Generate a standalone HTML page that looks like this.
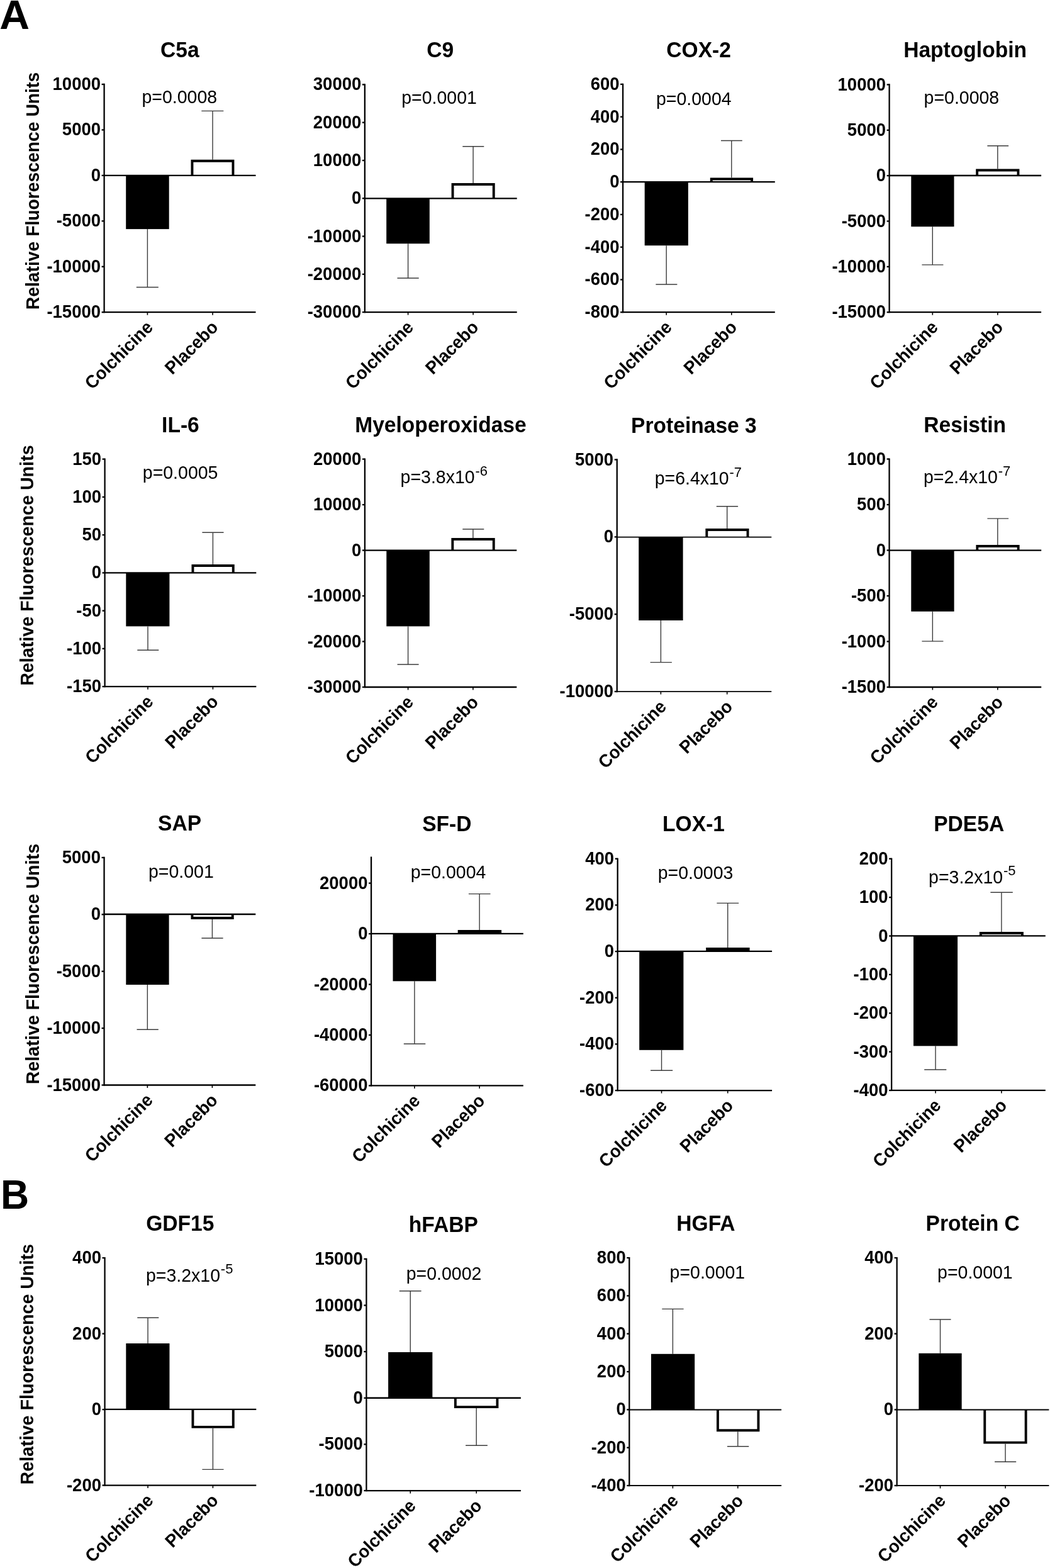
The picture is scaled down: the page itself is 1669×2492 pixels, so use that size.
<!DOCTYPE html>
<html><head><meta charset="utf-8"><title>Figure</title>
<style>
html,body{margin:0;padding:0;background:#fff;}
body{width:1669px;height:2492px;overflow:hidden;}
svg{display:block;}
text{font-family:"Liberation Sans",Arial,sans-serif;fill:#000;}
.tk{font-size:27.5px;font-weight:bold;text-anchor:end;}
.ti{font-size:33.6px;font-weight:bold;text-anchor:middle;}
.pv{font-size:28.5px;}
.sp{font-size:22px;}
.xl{font-size:27.5px;font-weight:bold;text-anchor:end;}
.yl{font-size:28.3px;text-anchor:middle;font-weight:bold;}
.pl{font-size:62.6px;font-weight:bold;}
</style></head>
<body>
<svg width="1669" height="2492" viewBox="0 0 1669 2492">
<rect width="1669" height="2492" fill="#fff"/>
<line x1="165.6" y1="132.85" x2="165.6" y2="497.35" stroke="#000" stroke-width="2.3"/>
<line x1="161.6" y1="134" x2="165.6" y2="134" stroke="#000" stroke-width="2.3"/>
<text class="tk" transform="translate(160 143) scale(1 1.041)">10000</text>
<line x1="161.6" y1="206.44" x2="165.6" y2="206.44" stroke="#000" stroke-width="2.3"/>
<text class="tk" transform="translate(160 215.44) scale(1 1.041)">5000</text>
<line x1="161.6" y1="278.88" x2="165.6" y2="278.88" stroke="#000" stroke-width="2.3"/>
<text class="tk" transform="translate(160 287.88) scale(1 1.041)">0</text>
<line x1="161.6" y1="351.32" x2="165.6" y2="351.32" stroke="#000" stroke-width="2.3"/>
<text class="tk" transform="translate(160 360.32) scale(1 1.041)">-5000</text>
<line x1="161.6" y1="423.76" x2="165.6" y2="423.76" stroke="#000" stroke-width="2.3"/>
<text class="tk" transform="translate(160 432.76) scale(1 1.041)">-10000</text>
<line x1="161.6" y1="496.2" x2="165.6" y2="496.2" stroke="#000" stroke-width="2.3"/>
<text class="tk" transform="translate(160 505.2) scale(1 1.041)">-15000</text>
<line x1="165.6" y1="496.2" x2="406.5" y2="496.2" stroke="#000" stroke-width="2.3"/>
<line x1="234.4" y1="496.2" x2="234.4" y2="500.7" stroke="#000" stroke-width="1.6"/>
<line x1="338" y1="496.2" x2="338" y2="500.7" stroke="#000" stroke-width="1.6"/>
<rect x="200.2" y="278.9" width="68.5" height="85.2" fill="#000"/>
<path d="M305.45 278.9 L305.45 255.75 L370.45 255.75 L370.45 278.9" fill="#fff" stroke="#000" stroke-width="3.9" stroke-linejoin="miter"/>
<line x1="165.6" y1="278.9" x2="406.5" y2="278.9" stroke="#000" stroke-width="2.3"/>
<line x1="234.4" y1="364.1" x2="234.4" y2="456.5" stroke="#3a3a3a" stroke-width="1.4"/>
<line x1="216.8" y1="456.5" x2="251.8" y2="456.5" stroke="#3a3a3a" stroke-width="1.4"/>
<line x1="338" y1="253.8" x2="338" y2="176.4" stroke="#3a3a3a" stroke-width="1.4"/>
<line x1="320.3" y1="176.4" x2="355.3" y2="176.4" stroke="#3a3a3a" stroke-width="1.4"/>
<text class="ti" transform="translate(285.85 91.1) scale(1 1.041)">C5a</text>
<text class="pv" transform="translate(225.5 164.1) scale(1 1.041)">p=0.0008</text>
<text class="xl" transform="translate(244.7 522) rotate(-45) scale(1 1.041)">Colchicine</text>
<text class="xl" transform="translate(348.3 522) rotate(-45) scale(1 1.041)">Placebo</text>
<line x1="579.85" y1="133.25" x2="579.85" y2="497.25" stroke="#000" stroke-width="2.3"/>
<line x1="575.85" y1="134.4" x2="579.85" y2="134.4" stroke="#000" stroke-width="2.3"/>
<text class="tk" transform="translate(574.25 143.4) scale(1 1.041)">30000</text>
<line x1="575.85" y1="194.68" x2="579.85" y2="194.68" stroke="#000" stroke-width="2.3"/>
<text class="tk" transform="translate(574.25 203.68) scale(1 1.041)">20000</text>
<line x1="575.85" y1="254.97" x2="579.85" y2="254.97" stroke="#000" stroke-width="2.3"/>
<text class="tk" transform="translate(574.25 263.97) scale(1 1.041)">10000</text>
<line x1="575.85" y1="315.25" x2="579.85" y2="315.25" stroke="#000" stroke-width="2.3"/>
<text class="tk" transform="translate(574.25 324.25) scale(1 1.041)">0</text>
<line x1="575.85" y1="375.53" x2="579.85" y2="375.53" stroke="#000" stroke-width="2.3"/>
<text class="tk" transform="translate(574.25 384.53) scale(1 1.041)">-10000</text>
<line x1="575.85" y1="435.82" x2="579.85" y2="435.82" stroke="#000" stroke-width="2.3"/>
<text class="tk" transform="translate(574.25 444.82) scale(1 1.041)">-20000</text>
<line x1="575.85" y1="496.1" x2="579.85" y2="496.1" stroke="#000" stroke-width="2.3"/>
<text class="tk" transform="translate(574.25 505.1) scale(1 1.041)">-30000</text>
<line x1="579.85" y1="496.1" x2="821.7" y2="496.1" stroke="#000" stroke-width="2.3"/>
<line x1="648.6" y1="496.1" x2="648.6" y2="500.6" stroke="#000" stroke-width="1.6"/>
<line x1="752.1" y1="496.1" x2="752.1" y2="500.6" stroke="#000" stroke-width="1.6"/>
<rect x="614.2" y="315.35" width="68.6" height="71.85" fill="#000"/>
<path d="M719.55 315.35 L719.55 293.05 L784.75 293.05 L784.75 315.35" fill="#fff" stroke="#000" stroke-width="3.9" stroke-linejoin="miter"/>
<line x1="579.85" y1="315.35" x2="821.7" y2="315.35" stroke="#000" stroke-width="2.3"/>
<line x1="648.6" y1="387.2" x2="648.6" y2="442" stroke="#3a3a3a" stroke-width="1.4"/>
<line x1="631.5" y1="442" x2="665.7" y2="442" stroke="#3a3a3a" stroke-width="1.4"/>
<line x1="752.1" y1="291.1" x2="752.1" y2="232.8" stroke="#3a3a3a" stroke-width="1.4"/>
<line x1="735.3" y1="232.8" x2="769.3" y2="232.8" stroke="#3a3a3a" stroke-width="1.4"/>
<text class="ti" transform="translate(699.65 91.4) scale(1 1.041)">C9</text>
<text class="pv" transform="translate(638.2 165.4) scale(1 1.041)">p=0.0001</text>
<text class="xl" transform="translate(658.9 521.9) rotate(-45) scale(1 1.041)">Colchicine</text>
<text class="xl" transform="translate(762.4 521.9) rotate(-45) scale(1 1.041)">Placebo</text>
<line x1="990.1" y1="132.75" x2="990.1" y2="497.35" stroke="#000" stroke-width="2.3"/>
<line x1="986.1" y1="133.9" x2="990.1" y2="133.9" stroke="#000" stroke-width="2.3"/>
<text class="tk" transform="translate(984.5 142.9) scale(1 1.041)">600</text>
<line x1="986.1" y1="185.66" x2="990.1" y2="185.66" stroke="#000" stroke-width="2.3"/>
<text class="tk" transform="translate(984.5 194.66) scale(1 1.041)">400</text>
<line x1="986.1" y1="237.41" x2="990.1" y2="237.41" stroke="#000" stroke-width="2.3"/>
<text class="tk" transform="translate(984.5 246.41) scale(1 1.041)">200</text>
<line x1="986.1" y1="289.17" x2="990.1" y2="289.17" stroke="#000" stroke-width="2.3"/>
<text class="tk" transform="translate(984.5 298.17) scale(1 1.041)">0</text>
<line x1="986.1" y1="340.93" x2="990.1" y2="340.93" stroke="#000" stroke-width="2.3"/>
<text class="tk" transform="translate(984.5 349.93) scale(1 1.041)">-200</text>
<line x1="986.1" y1="392.69" x2="990.1" y2="392.69" stroke="#000" stroke-width="2.3"/>
<text class="tk" transform="translate(984.5 401.69) scale(1 1.041)">-400</text>
<line x1="986.1" y1="444.44" x2="990.1" y2="444.44" stroke="#000" stroke-width="2.3"/>
<text class="tk" transform="translate(984.5 453.44) scale(1 1.041)">-600</text>
<line x1="986.1" y1="496.2" x2="990.1" y2="496.2" stroke="#000" stroke-width="2.3"/>
<text class="tk" transform="translate(984.5 505.2) scale(1 1.041)">-800</text>
<line x1="990.1" y1="496.2" x2="1231.8" y2="496.2" stroke="#000" stroke-width="2.3"/>
<line x1="1059.2" y1="496.2" x2="1059.2" y2="500.7" stroke="#000" stroke-width="1.6"/>
<line x1="1162.8" y1="496.2" x2="1162.8" y2="500.7" stroke="#000" stroke-width="1.6"/>
<rect x="1024.7" y="289.15" width="69.2" height="101.05" fill="#000"/>
<path d="M1130.75 289.15 L1130.75 284.45 L1195.15 284.45 L1195.15 289.15" fill="#fff" stroke="#000" stroke-width="3.9" stroke-linejoin="miter"/>
<line x1="990.1" y1="289.15" x2="1231.8" y2="289.15" stroke="#000" stroke-width="2.3"/>
<line x1="1059.2" y1="390.2" x2="1059.2" y2="452" stroke="#3a3a3a" stroke-width="1.4"/>
<line x1="1042.4" y1="452" x2="1076.4" y2="452" stroke="#3a3a3a" stroke-width="1.4"/>
<line x1="1162.8" y1="282.5" x2="1162.8" y2="223.5" stroke="#3a3a3a" stroke-width="1.4"/>
<line x1="1146" y1="223.5" x2="1179.8" y2="223.5" stroke="#3a3a3a" stroke-width="1.4"/>
<text class="ti" transform="translate(1110.6 91.4) scale(1 1.041)">COX-2</text>
<text class="pv" transform="translate(1043 166.8) scale(1 1.041)">p=0.0004</text>
<text class="xl" transform="translate(1069.5 522) rotate(-45) scale(1 1.041)">Colchicine</text>
<text class="xl" transform="translate(1173.1 522) rotate(-45) scale(1 1.041)">Placebo</text>
<line x1="1413.6" y1="133.35" x2="1413.6" y2="497.35" stroke="#000" stroke-width="2.3"/>
<line x1="1409.6" y1="134.5" x2="1413.6" y2="134.5" stroke="#000" stroke-width="2.3"/>
<text class="tk" transform="translate(1408 143.5) scale(1 1.041)">10000</text>
<line x1="1409.6" y1="206.84" x2="1413.6" y2="206.84" stroke="#000" stroke-width="2.3"/>
<text class="tk" transform="translate(1408 215.84) scale(1 1.041)">5000</text>
<line x1="1409.6" y1="279.18" x2="1413.6" y2="279.18" stroke="#000" stroke-width="2.3"/>
<text class="tk" transform="translate(1408 288.18) scale(1 1.041)">0</text>
<line x1="1409.6" y1="351.52" x2="1413.6" y2="351.52" stroke="#000" stroke-width="2.3"/>
<text class="tk" transform="translate(1408 360.52) scale(1 1.041)">-5000</text>
<line x1="1409.6" y1="423.86" x2="1413.6" y2="423.86" stroke="#000" stroke-width="2.3"/>
<text class="tk" transform="translate(1408 432.86) scale(1 1.041)">-10000</text>
<line x1="1409.6" y1="496.2" x2="1413.6" y2="496.2" stroke="#000" stroke-width="2.3"/>
<text class="tk" transform="translate(1408 505.2) scale(1 1.041)">-15000</text>
<line x1="1413.6" y1="496.2" x2="1655.1" y2="496.2" stroke="#000" stroke-width="2.3"/>
<line x1="1482.3" y1="496.2" x2="1482.3" y2="500.7" stroke="#000" stroke-width="1.6"/>
<line x1="1585.8" y1="496.2" x2="1585.8" y2="500.7" stroke="#000" stroke-width="1.6"/>
<rect x="1448.3" y="279" width="68.2" height="81.2" fill="#000"/>
<path d="M1553.15 279 L1553.15 270.55 L1618.45 270.55 L1618.45 279" fill="#fff" stroke="#000" stroke-width="3.9" stroke-linejoin="miter"/>
<line x1="1413.6" y1="279" x2="1655.1" y2="279" stroke="#000" stroke-width="2.3"/>
<line x1="1482.3" y1="360.2" x2="1482.3" y2="420.9" stroke="#3a3a3a" stroke-width="1.4"/>
<line x1="1465.4" y1="420.9" x2="1499.4" y2="420.9" stroke="#3a3a3a" stroke-width="1.4"/>
<line x1="1585.8" y1="268.6" x2="1585.8" y2="231.8" stroke="#3a3a3a" stroke-width="1.4"/>
<line x1="1569.4" y1="231.8" x2="1603.1" y2="231.8" stroke="#3a3a3a" stroke-width="1.4"/>
<text class="ti" transform="translate(1534.1 91.4) scale(1 1.041)">Haptoglobin</text>
<text class="pv" transform="translate(1468.6 165.1) scale(1 1.041)">p=0.0008</text>
<text class="xl" transform="translate(1492.6 522) rotate(-45) scale(1 1.041)">Colchicine</text>
<text class="xl" transform="translate(1596.1 522) rotate(-45) scale(1 1.041)">Placebo</text>
<line x1="166.6" y1="728.5" x2="166.6" y2="1092.3" stroke="#000" stroke-width="2.3"/>
<line x1="162.6" y1="729.65" x2="166.6" y2="729.65" stroke="#000" stroke-width="2.3"/>
<text class="tk" transform="translate(161 738.65) scale(1 1.041)">150</text>
<line x1="162.6" y1="789.9" x2="166.6" y2="789.9" stroke="#000" stroke-width="2.3"/>
<text class="tk" transform="translate(161 798.9) scale(1 1.041)">100</text>
<line x1="162.6" y1="850.15" x2="166.6" y2="850.15" stroke="#000" stroke-width="2.3"/>
<text class="tk" transform="translate(161 859.15) scale(1 1.041)">50</text>
<line x1="162.6" y1="910.4" x2="166.6" y2="910.4" stroke="#000" stroke-width="2.3"/>
<text class="tk" transform="translate(161 919.4) scale(1 1.041)">0</text>
<line x1="162.6" y1="970.65" x2="166.6" y2="970.65" stroke="#000" stroke-width="2.3"/>
<text class="tk" transform="translate(161 979.65) scale(1 1.041)">-50</text>
<line x1="162.6" y1="1030.9" x2="166.6" y2="1030.9" stroke="#000" stroke-width="2.3"/>
<text class="tk" transform="translate(161 1039.9) scale(1 1.041)">-100</text>
<line x1="162.6" y1="1091.15" x2="166.6" y2="1091.15" stroke="#000" stroke-width="2.3"/>
<text class="tk" transform="translate(161 1100.15) scale(1 1.041)">-150</text>
<line x1="166.6" y1="1091.15" x2="407.3" y2="1091.15" stroke="#000" stroke-width="2.3"/>
<line x1="235" y1="1091.15" x2="235" y2="1095.65" stroke="#000" stroke-width="1.6"/>
<line x1="338.4" y1="1091.15" x2="338.4" y2="1095.65" stroke="#000" stroke-width="1.6"/>
<rect x="200.3" y="910.3" width="69.1" height="85.1" fill="#000"/>
<path d="M306.45 910.3 L306.45 899.05 L370.75 899.05 L370.75 910.3" fill="#fff" stroke="#000" stroke-width="3.9" stroke-linejoin="miter"/>
<line x1="166.6" y1="910.3" x2="407.3" y2="910.3" stroke="#000" stroke-width="2.3"/>
<line x1="235" y1="995.4" x2="235" y2="1033.3" stroke="#3a3a3a" stroke-width="1.4"/>
<line x1="218.3" y1="1033.3" x2="252.3" y2="1033.3" stroke="#3a3a3a" stroke-width="1.4"/>
<line x1="338.4" y1="897.1" x2="338.4" y2="846.3" stroke="#3a3a3a" stroke-width="1.4"/>
<line x1="321.4" y1="846.3" x2="355.5" y2="846.3" stroke="#3a3a3a" stroke-width="1.4"/>
<text class="ti" transform="translate(286.9 686.6) scale(1 1.041)">IL-6</text>
<text class="pv" transform="translate(226.8 761.2) scale(1 1.041)">p=0.0005</text>
<text class="xl" transform="translate(245.3 1116.95) rotate(-45) scale(1 1.041)">Colchicine</text>
<text class="xl" transform="translate(348.7 1116.95) rotate(-45) scale(1 1.041)">Placebo</text>
<line x1="579.9" y1="728.5" x2="579.9" y2="1093.15" stroke="#000" stroke-width="2.3"/>
<line x1="575.9" y1="729.65" x2="579.9" y2="729.65" stroke="#000" stroke-width="2.3"/>
<text class="tk" transform="translate(574.3 738.65) scale(1 1.041)">20000</text>
<line x1="575.9" y1="802.12" x2="579.9" y2="802.12" stroke="#000" stroke-width="2.3"/>
<text class="tk" transform="translate(574.3 811.12) scale(1 1.041)">10000</text>
<line x1="575.9" y1="874.59" x2="579.9" y2="874.59" stroke="#000" stroke-width="2.3"/>
<text class="tk" transform="translate(574.3 883.59) scale(1 1.041)">0</text>
<line x1="575.9" y1="947.06" x2="579.9" y2="947.06" stroke="#000" stroke-width="2.3"/>
<text class="tk" transform="translate(574.3 956.06) scale(1 1.041)">-10000</text>
<line x1="575.9" y1="1019.53" x2="579.9" y2="1019.53" stroke="#000" stroke-width="2.3"/>
<text class="tk" transform="translate(574.3 1028.53) scale(1 1.041)">-20000</text>
<line x1="575.9" y1="1092" x2="579.9" y2="1092" stroke="#000" stroke-width="2.3"/>
<text class="tk" transform="translate(574.3 1101) scale(1 1.041)">-30000</text>
<line x1="579.9" y1="1092" x2="821.3" y2="1092" stroke="#000" stroke-width="2.3"/>
<line x1="648.6" y1="1092" x2="648.6" y2="1096.5" stroke="#000" stroke-width="1.6"/>
<line x1="751.9" y1="1092" x2="751.9" y2="1096.5" stroke="#000" stroke-width="1.6"/>
<rect x="614.3" y="874.7" width="68.5" height="120.7" fill="#000"/>
<path d="M719.35 874.7 L719.35 856.95 L784.75 856.95 L784.75 874.7" fill="#fff" stroke="#000" stroke-width="3.9" stroke-linejoin="miter"/>
<line x1="579.9" y1="874.7" x2="821.3" y2="874.7" stroke="#000" stroke-width="2.3"/>
<line x1="648.6" y1="995.4" x2="648.6" y2="1056" stroke="#3a3a3a" stroke-width="1.4"/>
<line x1="631.6" y1="1056" x2="665.6" y2="1056" stroke="#3a3a3a" stroke-width="1.4"/>
<line x1="751.9" y1="855" x2="751.9" y2="841" stroke="#3a3a3a" stroke-width="1.4"/>
<line x1="735.3" y1="841" x2="769.3" y2="841" stroke="#3a3a3a" stroke-width="1.4"/>
<text class="ti" transform="translate(700.45 686.9) scale(1 1.041)">Myeloperoxidase</text>
<text class="pv" transform="translate(636.6 768) scale(1 1.041)">p=3.8x10<tspan class="sp" dx="0.8" dy="-12.0">-6</tspan></text>
<text class="xl" transform="translate(658.9 1117.8) rotate(-45) scale(1 1.041)">Colchicine</text>
<text class="xl" transform="translate(762.2 1117.8) rotate(-45) scale(1 1.041)">Placebo</text>
<line x1="980.75" y1="729.35" x2="980.75" y2="1100.2" stroke="#000" stroke-width="2.3"/>
<line x1="976.75" y1="730.5" x2="980.75" y2="730.5" stroke="#000" stroke-width="2.3"/>
<text class="tk" transform="translate(975.15 739.5) scale(1 1.041)">5000</text>
<line x1="976.75" y1="853.35" x2="980.75" y2="853.35" stroke="#000" stroke-width="2.3"/>
<text class="tk" transform="translate(975.15 862.35) scale(1 1.041)">0</text>
<line x1="976.75" y1="976.2" x2="980.75" y2="976.2" stroke="#000" stroke-width="2.3"/>
<text class="tk" transform="translate(975.15 985.2) scale(1 1.041)">-5000</text>
<line x1="976.75" y1="1099.05" x2="980.75" y2="1099.05" stroke="#000" stroke-width="2.3"/>
<text class="tk" transform="translate(975.15 1108.05) scale(1 1.041)">-10000</text>
<line x1="980.75" y1="1099.05" x2="1226.3" y2="1099.05" stroke="#000" stroke-width="1.8"/>
<line x1="1050.4" y1="1099.05" x2="1050.4" y2="1103.55" stroke="#000" stroke-width="1.6"/>
<line x1="1155.7" y1="1099.05" x2="1155.7" y2="1103.55" stroke="#000" stroke-width="1.6"/>
<rect x="1015.25" y="853.6" width="70.35" height="132.4" fill="#000"/>
<path d="M1123.35 853.6 L1123.35 842.05 L1188.55 842.05 L1188.55 853.6" fill="#fff" stroke="#000" stroke-width="3.9" stroke-linejoin="miter"/>
<line x1="980.75" y1="853.6" x2="1226.3" y2="853.6" stroke="#000" stroke-width="1.8"/>
<line x1="1050.4" y1="986" x2="1050.4" y2="1052.6" stroke="#3a3a3a" stroke-width="1.4"/>
<line x1="1033.6" y1="1052.6" x2="1067.9" y2="1052.6" stroke="#3a3a3a" stroke-width="1.4"/>
<line x1="1155.7" y1="840.1" x2="1155.7" y2="804.8" stroke="#3a3a3a" stroke-width="1.4"/>
<line x1="1138.8" y1="804.8" x2="1173.1" y2="804.8" stroke="#3a3a3a" stroke-width="1.4"/>
<text class="ti" transform="translate(1102.9 687.5) scale(1 1.041)">Proteinase 3</text>
<text class="pv" transform="translate(1040.7 770.2) scale(1 1.041)">p=6.4x10<tspan class="sp" dx="0.8" dy="-12.0">-7</tspan></text>
<text class="xl" transform="translate(1060.7 1124.85) rotate(-45) scale(1 1.041)">Colchicine</text>
<text class="xl" transform="translate(1166 1124.85) rotate(-45) scale(1 1.041)">Placebo</text>
<line x1="1413.55" y1="728.4" x2="1413.55" y2="1093.15" stroke="#000" stroke-width="2.3"/>
<line x1="1409.55" y1="729.55" x2="1413.55" y2="729.55" stroke="#000" stroke-width="2.3"/>
<text class="tk" transform="translate(1407.95 738.55) scale(1 1.041)">1000</text>
<line x1="1409.55" y1="802.04" x2="1413.55" y2="802.04" stroke="#000" stroke-width="2.3"/>
<text class="tk" transform="translate(1407.95 811.04) scale(1 1.041)">500</text>
<line x1="1409.55" y1="874.53" x2="1413.55" y2="874.53" stroke="#000" stroke-width="2.3"/>
<text class="tk" transform="translate(1407.95 883.53) scale(1 1.041)">0</text>
<line x1="1409.55" y1="947.02" x2="1413.55" y2="947.02" stroke="#000" stroke-width="2.3"/>
<text class="tk" transform="translate(1407.95 956.02) scale(1 1.041)">-500</text>
<line x1="1409.55" y1="1019.51" x2="1413.55" y2="1019.51" stroke="#000" stroke-width="2.3"/>
<text class="tk" transform="translate(1407.95 1028.51) scale(1 1.041)">-1000</text>
<line x1="1409.55" y1="1092" x2="1413.55" y2="1092" stroke="#000" stroke-width="2.3"/>
<text class="tk" transform="translate(1407.95 1101) scale(1 1.041)">-1500</text>
<line x1="1413.55" y1="1092" x2="1655.2" y2="1092" stroke="#000" stroke-width="2.3"/>
<line x1="1482.35" y1="1092" x2="1482.35" y2="1096.5" stroke="#000" stroke-width="1.6"/>
<line x1="1585.8" y1="1092" x2="1585.8" y2="1096.5" stroke="#000" stroke-width="1.6"/>
<rect x="1448.3" y="874.65" width="68.3" height="97.15" fill="#000"/>
<path d="M1553.35 874.65 L1553.35 868.05 L1618.65 868.05 L1618.65 874.65" fill="#fff" stroke="#000" stroke-width="3.9" stroke-linejoin="miter"/>
<line x1="1413.55" y1="874.65" x2="1655.2" y2="874.65" stroke="#000" stroke-width="2.3"/>
<line x1="1482.35" y1="971.8" x2="1482.35" y2="1019.1" stroke="#3a3a3a" stroke-width="1.4"/>
<line x1="1465.4" y1="1019.1" x2="1499.4" y2="1019.1" stroke="#3a3a3a" stroke-width="1.4"/>
<line x1="1585.8" y1="866.1" x2="1585.8" y2="824.1" stroke="#3a3a3a" stroke-width="1.4"/>
<line x1="1569.4" y1="824.1" x2="1603.1" y2="824.1" stroke="#3a3a3a" stroke-width="1.4"/>
<text class="ti" transform="translate(1533.65 686.8) scale(1 1.041)">Resistin</text>
<text class="pv" transform="translate(1467.9 768.1) scale(1 1.041)">p=2.4x10<tspan class="sp" dx="0.8" dy="-12.0">-7</tspan></text>
<text class="xl" transform="translate(1492.65 1117.8) rotate(-45) scale(1 1.041)">Colchicine</text>
<text class="xl" transform="translate(1596.1 1117.8) rotate(-45) scale(1 1.041)">Placebo</text>
<line x1="165.55" y1="1361.8" x2="165.55" y2="1725.65" stroke="#000" stroke-width="2.3"/>
<line x1="161.55" y1="1362.95" x2="165.55" y2="1362.95" stroke="#000" stroke-width="2.3"/>
<text class="tk" transform="translate(159.95 1371.95) scale(1 1.041)">5000</text>
<line x1="161.55" y1="1453.34" x2="165.55" y2="1453.34" stroke="#000" stroke-width="2.3"/>
<text class="tk" transform="translate(159.95 1462.34) scale(1 1.041)">0</text>
<line x1="161.55" y1="1543.72" x2="165.55" y2="1543.72" stroke="#000" stroke-width="2.3"/>
<text class="tk" transform="translate(159.95 1552.72) scale(1 1.041)">-5000</text>
<line x1="161.55" y1="1634.11" x2="165.55" y2="1634.11" stroke="#000" stroke-width="2.3"/>
<text class="tk" transform="translate(159.95 1643.11) scale(1 1.041)">-10000</text>
<line x1="161.55" y1="1724.5" x2="165.55" y2="1724.5" stroke="#000" stroke-width="2.3"/>
<text class="tk" transform="translate(159.95 1733.5) scale(1 1.041)">-15000</text>
<line x1="165.55" y1="1724.5" x2="406.3" y2="1724.5" stroke="#000" stroke-width="2.3"/>
<line x1="234.35" y1="1724.5" x2="234.35" y2="1729" stroke="#000" stroke-width="1.6"/>
<line x1="337.4" y1="1724.5" x2="337.4" y2="1729" stroke="#000" stroke-width="1.6"/>
<rect x="200.3" y="1453" width="68.3" height="112" fill="#000"/>
<path d="M305.45 1453 L305.45 1458.95 L369.75 1458.95 L369.75 1453" fill="#fff" stroke="#000" stroke-width="3.9" stroke-linejoin="miter"/>
<line x1="165.55" y1="1453" x2="406.3" y2="1453" stroke="#000" stroke-width="2.3"/>
<line x1="234.35" y1="1565" x2="234.35" y2="1636.3" stroke="#3a3a3a" stroke-width="1.4"/>
<line x1="217.5" y1="1636.3" x2="251.8" y2="1636.3" stroke="#3a3a3a" stroke-width="1.4"/>
<line x1="337.4" y1="1460.9" x2="337.4" y2="1491" stroke="#3a3a3a" stroke-width="1.4"/>
<line x1="320.4" y1="1491" x2="354.6" y2="1491" stroke="#3a3a3a" stroke-width="1.4"/>
<text class="ti" transform="translate(285.6 1320) scale(1 1.041)">SAP</text>
<text class="pv" transform="translate(236 1395.1) scale(1 1.041)">p=0.001</text>
<text class="xl" transform="translate(244.65 1750.3) rotate(-45) scale(1 1.041)">Colchicine</text>
<text class="xl" transform="translate(347.7 1750.3) rotate(-45) scale(1 1.041)">Placebo</text>
<line x1="590.05" y1="1361.6" x2="590.05" y2="1726.55" stroke="#000" stroke-width="2.3"/>
<line x1="586.05" y1="1403.6" x2="590.05" y2="1403.6" stroke="#000" stroke-width="2.3"/>
<text class="tk" transform="translate(584.45 1412.6) scale(1 1.041)">20000</text>
<line x1="586.05" y1="1484.05" x2="590.05" y2="1484.05" stroke="#000" stroke-width="2.3"/>
<text class="tk" transform="translate(584.45 1493.05) scale(1 1.041)">0</text>
<line x1="586.05" y1="1564.5" x2="590.05" y2="1564.5" stroke="#000" stroke-width="2.3"/>
<text class="tk" transform="translate(584.45 1573.5) scale(1 1.041)">-20000</text>
<line x1="586.05" y1="1644.95" x2="590.05" y2="1644.95" stroke="#000" stroke-width="2.3"/>
<text class="tk" transform="translate(584.45 1653.95) scale(1 1.041)">-40000</text>
<line x1="586.05" y1="1725.4" x2="590.05" y2="1725.4" stroke="#000" stroke-width="2.3"/>
<text class="tk" transform="translate(584.45 1734.4) scale(1 1.041)">-60000</text>
<line x1="590.05" y1="1725.4" x2="831.8" y2="1725.4" stroke="#000" stroke-width="2.3"/>
<line x1="658.9" y1="1725.4" x2="658.9" y2="1729.9" stroke="#000" stroke-width="1.6"/>
<line x1="762.15" y1="1725.4" x2="762.15" y2="1729.9" stroke="#000" stroke-width="1.6"/>
<rect x="624.5" y="1483.9" width="68.6" height="75.45" fill="#000"/>
<path d="M729.65 1483.9 L729.65 1480.05 L795.15 1480.05 L795.15 1483.9" fill="#000" stroke="#000" stroke-width="3.9" stroke-linejoin="miter"/>
<line x1="590.05" y1="1483.9" x2="831.8" y2="1483.9" stroke="#000" stroke-width="2.3"/>
<line x1="658.9" y1="1559.35" x2="658.9" y2="1659" stroke="#3a3a3a" stroke-width="1.4"/>
<line x1="641.8" y1="1659" x2="676.3" y2="1659" stroke="#3a3a3a" stroke-width="1.4"/>
<line x1="762.15" y1="1478.1" x2="762.15" y2="1420.6" stroke="#3a3a3a" stroke-width="1.4"/>
<line x1="744.9" y1="1420.6" x2="779.5" y2="1420.6" stroke="#3a3a3a" stroke-width="1.4"/>
<text class="ti" transform="translate(710.35 1320.6) scale(1 1.041)">SF-D</text>
<text class="pv" transform="translate(652.7 1395.9) scale(1 1.041)">p=0.0004</text>
<text class="xl" transform="translate(669.2 1751.2) rotate(-45) scale(1 1.041)">Colchicine</text>
<text class="xl" transform="translate(772.45 1751.2) rotate(-45) scale(1 1.041)">Placebo</text>
<line x1="981.7" y1="1363.65" x2="981.7" y2="1734.2" stroke="#000" stroke-width="2.3"/>
<line x1="977.7" y1="1364.8" x2="981.7" y2="1364.8" stroke="#000" stroke-width="2.3"/>
<text class="tk" transform="translate(976.1 1373.8) scale(1 1.041)">400</text>
<line x1="977.7" y1="1438.45" x2="981.7" y2="1438.45" stroke="#000" stroke-width="2.3"/>
<text class="tk" transform="translate(976.1 1447.45) scale(1 1.041)">200</text>
<line x1="977.7" y1="1512.1" x2="981.7" y2="1512.1" stroke="#000" stroke-width="2.3"/>
<text class="tk" transform="translate(976.1 1521.1) scale(1 1.041)">0</text>
<line x1="977.7" y1="1585.75" x2="981.7" y2="1585.75" stroke="#000" stroke-width="2.3"/>
<text class="tk" transform="translate(976.1 1594.75) scale(1 1.041)">-200</text>
<line x1="977.7" y1="1659.4" x2="981.7" y2="1659.4" stroke="#000" stroke-width="2.3"/>
<text class="tk" transform="translate(976.1 1668.4) scale(1 1.041)">-400</text>
<line x1="977.7" y1="1733.05" x2="981.7" y2="1733.05" stroke="#000" stroke-width="2.3"/>
<text class="tk" transform="translate(976.1 1742.05) scale(1 1.041)">-600</text>
<line x1="981.7" y1="1733.05" x2="1227.1" y2="1733.05" stroke="#000" stroke-width="2.3"/>
<line x1="1051.55" y1="1733.05" x2="1051.55" y2="1737.55" stroke="#000" stroke-width="1.6"/>
<line x1="1156.75" y1="1733.05" x2="1156.75" y2="1737.55" stroke="#000" stroke-width="1.6"/>
<rect x="1016.2" y="1511.85" width="70.2" height="156.95" fill="#000"/>
<path d="M1124.15 1511.85 L1124.15 1508.05 L1189.65 1508.05 L1189.65 1511.85" fill="#000" stroke="#000" stroke-width="3.9" stroke-linejoin="miter"/>
<line x1="981.7" y1="1511.85" x2="1227.1" y2="1511.85" stroke="#000" stroke-width="2.3"/>
<line x1="1051.55" y1="1668.8" x2="1051.55" y2="1701.3" stroke="#3a3a3a" stroke-width="1.4"/>
<line x1="1034.1" y1="1701.3" x2="1069.2" y2="1701.3" stroke="#3a3a3a" stroke-width="1.4"/>
<line x1="1156.75" y1="1506.1" x2="1156.75" y2="1435.4" stroke="#3a3a3a" stroke-width="1.4"/>
<line x1="1139.4" y1="1435.4" x2="1174.2" y2="1435.4" stroke="#3a3a3a" stroke-width="1.4"/>
<text class="ti" transform="translate(1102.55 1320.7) scale(1 1.041)">LOX-1</text>
<text class="pv" transform="translate(1045.7 1396.8) scale(1 1.041)">p=0.0003</text>
<text class="xl" transform="translate(1061.85 1758.85) rotate(-45) scale(1 1.041)">Colchicine</text>
<text class="xl" transform="translate(1167.05 1758.85) rotate(-45) scale(1 1.041)">Placebo</text>
<line x1="1417.15" y1="1363.65" x2="1417.15" y2="1734.1" stroke="#000" stroke-width="2.3"/>
<line x1="1413.15" y1="1364.8" x2="1417.15" y2="1364.8" stroke="#000" stroke-width="2.3"/>
<text class="tk" transform="translate(1411.55 1373.8) scale(1 1.041)">200</text>
<line x1="1413.15" y1="1426.16" x2="1417.15" y2="1426.16" stroke="#000" stroke-width="2.3"/>
<text class="tk" transform="translate(1411.55 1435.16) scale(1 1.041)">100</text>
<line x1="1413.15" y1="1487.52" x2="1417.15" y2="1487.52" stroke="#000" stroke-width="2.3"/>
<text class="tk" transform="translate(1411.55 1496.52) scale(1 1.041)">0</text>
<line x1="1413.15" y1="1548.88" x2="1417.15" y2="1548.88" stroke="#000" stroke-width="2.3"/>
<text class="tk" transform="translate(1411.55 1557.88) scale(1 1.041)">-100</text>
<line x1="1413.15" y1="1610.23" x2="1417.15" y2="1610.23" stroke="#000" stroke-width="2.3"/>
<text class="tk" transform="translate(1411.55 1619.23) scale(1 1.041)">-200</text>
<line x1="1413.15" y1="1671.59" x2="1417.15" y2="1671.59" stroke="#000" stroke-width="2.3"/>
<text class="tk" transform="translate(1411.55 1680.59) scale(1 1.041)">-300</text>
<line x1="1413.15" y1="1732.95" x2="1417.15" y2="1732.95" stroke="#000" stroke-width="2.3"/>
<text class="tk" transform="translate(1411.55 1741.95) scale(1 1.041)">-400</text>
<line x1="1417.15" y1="1732.95" x2="1661.8" y2="1732.95" stroke="#000" stroke-width="2.3"/>
<line x1="1487.05" y1="1732.95" x2="1487.05" y2="1737.45" stroke="#000" stroke-width="1.6"/>
<line x1="1591.9" y1="1732.95" x2="1591.9" y2="1737.45" stroke="#000" stroke-width="1.6"/>
<rect x="1452" y="1487.3" width="70.1" height="175.05" fill="#000"/>
<path d="M1558.85 1487.3 L1558.85 1482.95 L1624.95 1482.95 L1624.95 1487.3" fill="#fff" stroke="#000" stroke-width="3.9" stroke-linejoin="miter"/>
<line x1="1417.15" y1="1487.3" x2="1661.8" y2="1487.3" stroke="#000" stroke-width="2.3"/>
<line x1="1487.05" y1="1662.35" x2="1487.05" y2="1700" stroke="#3a3a3a" stroke-width="1.4"/>
<line x1="1469.2" y1="1700" x2="1504.3" y2="1700" stroke="#3a3a3a" stroke-width="1.4"/>
<line x1="1591.9" y1="1481" x2="1591.9" y2="1418.2" stroke="#3a3a3a" stroke-width="1.4"/>
<line x1="1574.4" y1="1418.2" x2="1609.8" y2="1418.2" stroke="#3a3a3a" stroke-width="1.4"/>
<text class="ti" transform="translate(1540.15 1320.8) scale(1 1.041)">PDE5A</text>
<text class="pv" transform="translate(1476.1 1403.7) scale(1 1.041)">p=3.2x10<tspan class="sp" dx="0.8" dy="-12.0">-5</tspan></text>
<text class="xl" transform="translate(1497.35 1758.75) rotate(-45) scale(1 1.041)">Colchicine</text>
<text class="xl" transform="translate(1602.2 1758.75) rotate(-45) scale(1 1.041)">Placebo</text>
<line x1="166.55" y1="1998" x2="166.55" y2="2361.75" stroke="#000" stroke-width="2.3"/>
<line x1="162.55" y1="1999.15" x2="166.55" y2="1999.15" stroke="#000" stroke-width="2.3"/>
<text class="tk" transform="translate(160.95 2008.15) scale(1 1.041)">400</text>
<line x1="162.55" y1="2119.63" x2="166.55" y2="2119.63" stroke="#000" stroke-width="2.3"/>
<text class="tk" transform="translate(160.95 2128.63) scale(1 1.041)">200</text>
<line x1="162.55" y1="2240.12" x2="166.55" y2="2240.12" stroke="#000" stroke-width="2.3"/>
<text class="tk" transform="translate(160.95 2249.12) scale(1 1.041)">0</text>
<line x1="162.55" y1="2360.6" x2="166.55" y2="2360.6" stroke="#000" stroke-width="2.3"/>
<text class="tk" transform="translate(160.95 2369.6) scale(1 1.041)">-200</text>
<line x1="166.55" y1="2360.6" x2="407.3" y2="2360.6" stroke="#000" stroke-width="2.3"/>
<line x1="235.05" y1="2360.6" x2="235.05" y2="2365.1" stroke="#000" stroke-width="1.6"/>
<line x1="338.4" y1="2360.6" x2="338.4" y2="2365.1" stroke="#000" stroke-width="1.6"/>
<rect x="200.3" y="2135.05" width="69.15" height="104.9" fill="#000"/>
<path d="M306.45 2239.95 L306.45 2267.85 L370.75 2267.85 L370.75 2239.95" fill="#fff" stroke="#000" stroke-width="3.9" stroke-linejoin="miter"/>
<line x1="166.55" y1="2239.95" x2="407.3" y2="2239.95" stroke="#000" stroke-width="2.3"/>
<line x1="235.05" y1="2135.05" x2="235.05" y2="2094.3" stroke="#3a3a3a" stroke-width="1.4"/>
<line x1="218.3" y1="2094.3" x2="252.3" y2="2094.3" stroke="#3a3a3a" stroke-width="1.4"/>
<line x1="338.4" y1="2269.8" x2="338.4" y2="2335.4" stroke="#3a3a3a" stroke-width="1.4"/>
<line x1="321.4" y1="2335.4" x2="355.5" y2="2335.4" stroke="#3a3a3a" stroke-width="1.4"/>
<text class="ti" transform="translate(286.3 1956.1) scale(1 1.041)">GDF15</text>
<text class="pv" transform="translate(232 2036.7) scale(1 1.041)">p=3.2x10<tspan class="sp" dx="0.8" dy="-12.0">-5</tspan></text>
<text class="xl" transform="translate(245.35 2386.4) rotate(-45) scale(1 1.041)">Colchicine</text>
<text class="xl" transform="translate(348.7 2386.4) rotate(-45) scale(1 1.041)">Placebo</text>
<line x1="582.4" y1="1999.75" x2="582.4" y2="2370.2" stroke="#000" stroke-width="2.3"/>
<line x1="578.4" y1="2000.9" x2="582.4" y2="2000.9" stroke="#000" stroke-width="2.3"/>
<text class="tk" transform="translate(576.8 2009.9) scale(1 1.041)">15000</text>
<line x1="578.4" y1="2074.53" x2="582.4" y2="2074.53" stroke="#000" stroke-width="2.3"/>
<text class="tk" transform="translate(576.8 2083.53) scale(1 1.041)">10000</text>
<line x1="578.4" y1="2148.16" x2="582.4" y2="2148.16" stroke="#000" stroke-width="2.3"/>
<text class="tk" transform="translate(576.8 2157.16) scale(1 1.041)">5000</text>
<line x1="578.4" y1="2221.79" x2="582.4" y2="2221.79" stroke="#000" stroke-width="2.3"/>
<text class="tk" transform="translate(576.8 2230.79) scale(1 1.041)">0</text>
<line x1="578.4" y1="2295.42" x2="582.4" y2="2295.42" stroke="#000" stroke-width="2.3"/>
<text class="tk" transform="translate(576.8 2304.42) scale(1 1.041)">-5000</text>
<line x1="578.4" y1="2369.05" x2="582.4" y2="2369.05" stroke="#000" stroke-width="2.3"/>
<text class="tk" transform="translate(576.8 2378.05) scale(1 1.041)">-10000</text>
<line x1="582.4" y1="2369.05" x2="827.9" y2="2369.05" stroke="#000" stroke-width="2.3"/>
<line x1="652.25" y1="2369.05" x2="652.25" y2="2373.55" stroke="#000" stroke-width="1.6"/>
<line x1="757.2" y1="2369.05" x2="757.2" y2="2373.55" stroke="#000" stroke-width="1.6"/>
<rect x="617.1" y="2149" width="70.25" height="72.75" fill="#000"/>
<path d="M723.85 2221.75 L723.85 2236.15 L790.45 2236.15 L790.45 2221.75" fill="#fff" stroke="#000" stroke-width="3.9" stroke-linejoin="miter"/>
<line x1="582.4" y1="2221.75" x2="827.9" y2="2221.75" stroke="#000" stroke-width="2.3"/>
<line x1="652.25" y1="2149" x2="652.25" y2="2051.7" stroke="#3a3a3a" stroke-width="1.4"/>
<line x1="634.8" y1="2051.7" x2="669.6" y2="2051.7" stroke="#3a3a3a" stroke-width="1.4"/>
<line x1="757.2" y1="2238.1" x2="757.2" y2="2297.3" stroke="#3a3a3a" stroke-width="1.4"/>
<line x1="740.1" y1="2297.3" x2="774.9" y2="2297.3" stroke="#3a3a3a" stroke-width="1.4"/>
<text class="ti" transform="translate(704.85 1957.5) scale(1 1.041)">hFABP</text>
<text class="pv" transform="translate(645.7 2033.7) scale(1 1.041)">p=0.0002</text>
<text class="xl" transform="translate(662.55 2394.85) rotate(-45) scale(1 1.041)">Colchicine</text>
<text class="xl" transform="translate(767.5 2394.85) rotate(-45) scale(1 1.041)">Placebo</text>
<line x1="1000.3" y1="1997.9" x2="1000.3" y2="2362.15" stroke="#000" stroke-width="2.3"/>
<line x1="996.3" y1="1999.05" x2="1000.3" y2="1999.05" stroke="#000" stroke-width="2.3"/>
<text class="tk" transform="translate(994.7 2008.05) scale(1 1.041)">800</text>
<line x1="996.3" y1="2059.38" x2="1000.3" y2="2059.38" stroke="#000" stroke-width="2.3"/>
<text class="tk" transform="translate(994.7 2068.38) scale(1 1.041)">600</text>
<line x1="996.3" y1="2119.7" x2="1000.3" y2="2119.7" stroke="#000" stroke-width="2.3"/>
<text class="tk" transform="translate(994.7 2128.7) scale(1 1.041)">400</text>
<line x1="996.3" y1="2180.03" x2="1000.3" y2="2180.03" stroke="#000" stroke-width="2.3"/>
<text class="tk" transform="translate(994.7 2189.03) scale(1 1.041)">200</text>
<line x1="996.3" y1="2240.35" x2="1000.3" y2="2240.35" stroke="#000" stroke-width="2.3"/>
<text class="tk" transform="translate(994.7 2249.35) scale(1 1.041)">0</text>
<line x1="996.3" y1="2300.68" x2="1000.3" y2="2300.68" stroke="#000" stroke-width="2.3"/>
<text class="tk" transform="translate(994.7 2309.68) scale(1 1.041)">-200</text>
<line x1="996.3" y1="2361" x2="1000.3" y2="2361" stroke="#000" stroke-width="2.3"/>
<text class="tk" transform="translate(994.7 2370) scale(1 1.041)">-400</text>
<line x1="1000.3" y1="2361" x2="1242.1" y2="2361" stroke="#000" stroke-width="1.9"/>
<line x1="1069.4" y1="2361" x2="1069.4" y2="2365.5" stroke="#000" stroke-width="1.6"/>
<line x1="1172.8" y1="2361" x2="1172.8" y2="2365.5" stroke="#000" stroke-width="1.6"/>
<rect x="1035" y="2151.8" width="69.2" height="88.65" fill="#000"/>
<path d="M1140.95 2240.45 L1140.95 2273.25 L1205.45 2273.25 L1205.45 2240.45" fill="#fff" stroke="#000" stroke-width="3.9" stroke-linejoin="miter"/>
<line x1="1000.3" y1="2240.45" x2="1242.1" y2="2240.45" stroke="#000" stroke-width="1.9"/>
<line x1="1069.4" y1="2151.8" x2="1069.4" y2="2080.4" stroke="#3a3a3a" stroke-width="1.4"/>
<line x1="1052.3" y1="2080.4" x2="1086.6" y2="2080.4" stroke="#3a3a3a" stroke-width="1.4"/>
<line x1="1172.8" y1="2275.2" x2="1172.8" y2="2298.7" stroke="#3a3a3a" stroke-width="1.4"/>
<line x1="1156" y1="2298.7" x2="1190.3" y2="2298.7" stroke="#3a3a3a" stroke-width="1.4"/>
<text class="ti" transform="translate(1121.9 1956.4) scale(1 1.041)">HGFA</text>
<text class="pv" transform="translate(1064.6 2031.6) scale(1 1.041)">p=0.0001</text>
<text class="xl" transform="translate(1079.7 2386.8) rotate(-45) scale(1 1.041)">Colchicine</text>
<text class="xl" transform="translate(1183.1 2386.8) rotate(-45) scale(1 1.041)">Placebo</text>
<line x1="1425.65" y1="1997.9" x2="1425.65" y2="2362.15" stroke="#000" stroke-width="2.3"/>
<line x1="1421.65" y1="1999.05" x2="1425.65" y2="1999.05" stroke="#000" stroke-width="2.3"/>
<text class="tk" transform="translate(1420.05 2008.05) scale(1 1.041)">400</text>
<line x1="1421.65" y1="2119.7" x2="1425.65" y2="2119.7" stroke="#000" stroke-width="2.3"/>
<text class="tk" transform="translate(1420.05 2128.7) scale(1 1.041)">200</text>
<line x1="1421.65" y1="2240.35" x2="1425.65" y2="2240.35" stroke="#000" stroke-width="2.3"/>
<text class="tk" transform="translate(1420.05 2249.35) scale(1 1.041)">0</text>
<line x1="1421.65" y1="2361" x2="1425.65" y2="2361" stroke="#000" stroke-width="2.3"/>
<text class="tk" transform="translate(1420.05 2370) scale(1 1.041)">-200</text>
<line x1="1425.65" y1="2361" x2="1667.4" y2="2361" stroke="#000" stroke-width="1.9"/>
<line x1="1494.55" y1="2361" x2="1494.55" y2="2365.5" stroke="#000" stroke-width="1.6"/>
<line x1="1598.05" y1="2361" x2="1598.05" y2="2365.5" stroke="#000" stroke-width="1.6"/>
<rect x="1460.4" y="2150.8" width="68.25" height="89.75" fill="#000"/>
<path d="M1565.25 2240.55 L1565.25 2292.65 L1630.65 2292.65 L1630.65 2240.55" fill="#fff" stroke="#000" stroke-width="3.9" stroke-linejoin="miter"/>
<line x1="1425.65" y1="2240.55" x2="1667.4" y2="2240.55" stroke="#000" stroke-width="1.9"/>
<line x1="1494.55" y1="2150.8" x2="1494.55" y2="2097" stroke="#3a3a3a" stroke-width="1.4"/>
<line x1="1477.5" y1="2097" x2="1511.5" y2="2097" stroke="#3a3a3a" stroke-width="1.4"/>
<line x1="1598.05" y1="2294.6" x2="1598.05" y2="2323.3" stroke="#3a3a3a" stroke-width="1.4"/>
<line x1="1581.1" y1="2323.3" x2="1615.2" y2="2323.3" stroke="#3a3a3a" stroke-width="1.4"/>
<text class="ti" transform="translate(1546.15 1956.4) scale(1 1.041)">Protein C</text>
<text class="pv" transform="translate(1490.1 2031.6) scale(1 1.041)">p=0.0001</text>
<text class="xl" transform="translate(1504.85 2386.8) rotate(-45) scale(1 1.041)">Colchicine</text>
<text class="xl" transform="translate(1608.35 2386.8) rotate(-45) scale(1 1.041)">Placebo</text>
<text class="yl" style="font-size:28.3px" transform="translate(62.2 303.55) rotate(-90) scale(1 1.041)">Relative Fluorescence Units</text>
<text class="yl" style="font-size:28.68px" transform="translate(52.5 898.65) rotate(-90) scale(1 1.041)">Relative Fluorescence Units</text>
<text class="yl" style="font-size:28.68px" transform="translate(61.9 1532.15) rotate(-90) scale(1 1.041)">Relative Fluorescence Units</text>
<text class="yl" style="font-size:28.68px" transform="translate(52.6 2168.2) rotate(-90) scale(1 1.041)">Relative Fluorescence Units</text>
<text class="pl" transform="translate(-0.8 45.9) scale(1.057 1.041)">A</text>
<text class="pl" transform="translate(1.1 1921.3) scale(1 1.041)">B</text>
</svg>
</body></html>
